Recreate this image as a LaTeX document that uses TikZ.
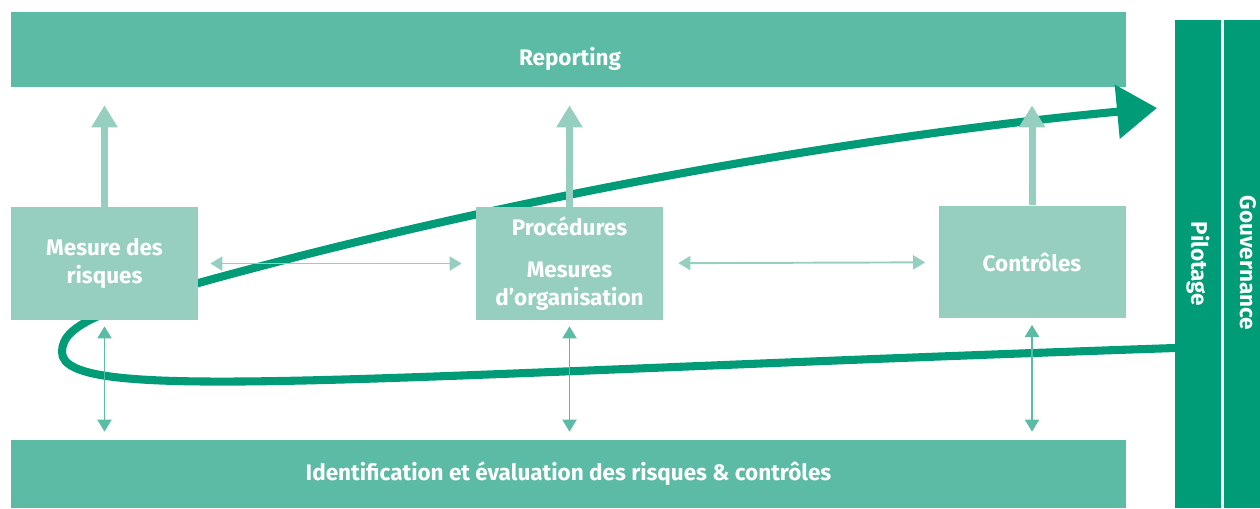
\documentclass[tikz,border=0pt]{standalone}
\usepackage{fontspec}
\setmainfont{Fira Sans}
\usetikzlibrary{arrows.meta,positioning}

\definecolor{deepgreen}{HTML}{009B77}
\definecolor{midgreen}{HTML}{5BBBA5}
\definecolor{palegreen}{HTML}{96CFC0}

\begin{document}
\begin{tikzpicture}[x=0.02cm,y=-0.02cm,
    font=\bfseries\fontsize{12.8}{16}\selectfont,
    bar/.style={fill=midgreen, text=white, inner sep=0pt, minimum width=22.3cm},
    side/.style={fill=deepgreen, text=white, inner sep=0pt, minimum height=9.76cm},
    box/.style={fill=palegreen, text=white, align=center, inner sep=0pt,
                minimum width=3.74cm, minimum height=2.26cm},
    cycle/.style={draw=deepgreen, line width=4.6pt,
                  -{Triangle[length=0.8cm,width=1.05cm]}},
    uparrow/.style={draw=palegreen, line width=4pt,
                    -{Triangle[length=0.44cm,width=0.5cm]}, shorten >=0.36cm},
    sidearrow/.style={draw=palegreen, line width=1.1pt,
                      {Triangle[length=0.24cm,width=0.28cm]}-{Triangle[length=0.24cm,width=0.28cm]}},
    downarrow/.style={draw=midgreen, line width=1.1pt,
                      {Triangle[length=0.24cm,width=0.28cm]}-{Triangle[length=0.24cm,width=0.28cm]},
                      shorten <=0.12cm, shorten >=0.16cm}]
    \useasboundingbox (0,0) rectangle (1260,508);

    % bandeaux
    \node[bar, minimum height=1.5cm] (report) at (568.5,49.5) {};
    \node[text=white] (reporttxt) at (570,59) {Reporting};
    \node[bar, minimum height=1.36cm] (ident) at (568.5,474) {Identification et évaluation des risques \& contrôles};
    \node[side, minimum width=0.92cm] (pilot) at (1198,264) {};
    \node[side, minimum width=0.96cm] (gouv) at (1248,264) {};
    \node[rotate=-90, text=white] (pilottxt) at (pilot) {Pilotage};
    \node[rotate=-90, text=white] (gouvtxt) at (1248,263) {Gouvernance};

    % la boucle
    \coordinate (loopstart) at (1175,348);
    \coordinate (looptip) at (1157,108);
    \draw[cycle] (loopstart) .. controls (350,376) and (62,405) .. (62,352)
        .. controls (62,322) and (110,305) .. (300,256)
        .. controls (600,180) and (900,132) .. (looptip);

    % les trois blocs
    \node[box] (mesure) at (104.5,263.5) {Mesure des\\risques};
    \node[box] (proc) at (569.5,263.5) {Procédures\\[8pt]Mesures\\d’organisation};
    \node[box] (ctrl) at (1032,262) {Contrôles};

    \draw[uparrow] (mesure.north) -- (mesure.north |- report.south);
    \draw[uparrow] (proc.north) -- (proc.north |- report.south);
    \draw[uparrow] (ctrl.north) -- (ctrl.north |- report.south);

    \draw[sidearrow, shorten <=0.24cm, shorten >=0.28cm] (mesure) -- (proc);
    \draw[sidearrow, shorten <=0.3cm, shorten >=0.26cm] (proc) -- (ctrl);

    \draw[downarrow] (mesure.south) -- (mesure.south |- ident.north);
    \draw[downarrow] (proc.south) -- (proc.south |- ident.north);
    \draw[downarrow] (ctrl.south) -- (ctrl.south |- ident.north);
\end{tikzpicture}
\end{document}
